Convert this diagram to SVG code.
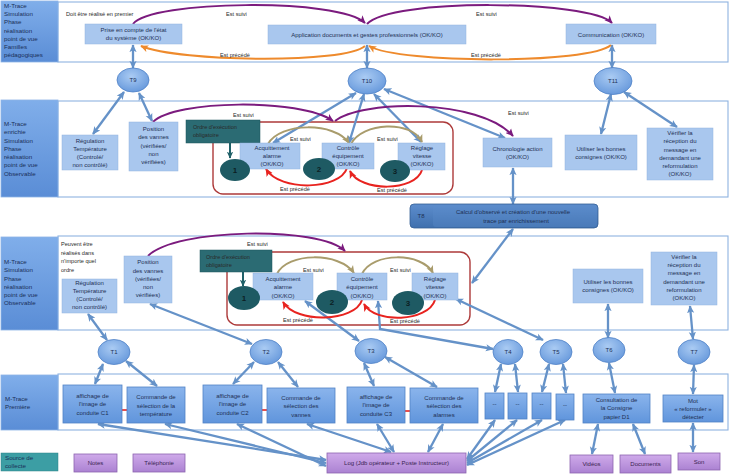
<svg xmlns="http://www.w3.org/2000/svg" width="731" height="474" viewBox="0 0 731 474">
<defs>
<linearGradient id="gLab" x1="0" y1="0" x2="0" y2="1"><stop offset="0" stop-color="#80aeea"/><stop offset="1" stop-color="#5a8dd6"/></linearGradient>
<linearGradient id="gMb" x1="0" y1="0" x2="0" y2="1"><stop offset="0" stop-color="#8ab4ec"/><stop offset="1" stop-color="#6095dc"/></linearGradient>
<radialGradient id="gT" cx="0.45" cy="0.35" r="0.75"><stop offset="0" stop-color="#aacbf3"/><stop offset="1" stop-color="#5f93d9"/></radialGradient>
<linearGradient id="gT8" x1="0" y1="0" x2="0" y2="1"><stop offset="0" stop-color="#5d8dcd"/><stop offset="1" stop-color="#3f70ae"/></linearGradient>
<linearGradient id="gPur" x1="0" y1="0" x2="0" y2="1"><stop offset="0" stop-color="#cfaaea"/><stop offset="1" stop-color="#ab82d2"/></linearGradient>
<marker id="ab" viewBox="0 0 10 10" refX="9" refY="5" markerWidth="8" markerHeight="8" markerUnits="userSpaceOnUse" orient="auto-start-reverse"><path d="M0,0.5 L10,5 L0,9.5 L2.5,5 z" fill="#6592c8"/></marker>
<marker id="ap" viewBox="0 0 10 10" refX="9" refY="5" markerWidth="8" markerHeight="8" markerUnits="userSpaceOnUse" orient="auto"><path d="M0,0.5 L10,5 L0,9.5 L2.5,5 z" fill="#7b1b7e"/></marker>
<marker id="ao" viewBox="0 0 10 10" refX="9" refY="5" markerWidth="8" markerHeight="8" markerUnits="userSpaceOnUse" orient="auto"><path d="M0,0.5 L10,5 L0,9.5 L2.5,5 z" fill="#ee8a2c"/></marker>
<marker id="av" viewBox="0 0 10 10" refX="9" refY="5" markerWidth="8" markerHeight="8" markerUnits="userSpaceOnUse" orient="auto"><path d="M0,0.5 L10,5 L0,9.5 L2.5,5 z" fill="#a99c6c"/></marker>
<marker id="ar" viewBox="0 0 10 10" refX="9" refY="5" markerWidth="8" markerHeight="8" markerUnits="userSpaceOnUse" orient="auto-start-reverse"><path d="M0,0.5 L10,5 L0,9.5 L2.5,5 z" fill="#e8231f"/></marker>
<marker id="at" viewBox="0 0 10 10" refX="9" refY="5" markerWidth="7" markerHeight="7" markerUnits="userSpaceOnUse" orient="auto"><path d="M0,0.5 L10,5 L0,9.5 L2.5,5 z" fill="#1f6068"/></marker>
</defs>
<style>
text{font-family:"Liberation Sans",Arial,sans-serif;}
.lab{fill:url(#gLab);stroke:#8db3e6;stroke-width:0.8}
.lt{font-size:6.2px;fill:#1a2f58}
.frame{fill:#fff;stroke:#8fb3e0;stroke-width:1.1}
.lb{fill:#a9c7ee;stroke:#93b4e0;stroke-width:0.5}
.t{font-size:6px;fill:#1e3054;text-anchor:middle}
.mb{fill:url(#gMb);stroke:#5283c6;stroke-width:0.8}
.te{fill:url(#gT);stroke:#4f82c6;stroke-width:0.8}
.pb{fill:url(#gPur);stroke:#8d64b0;stroke-width:0.8}
.pt{font-size:6px;fill:#3a2452;text-anchor:middle}
.ann{font-size:5.6px;fill:#2a2a2a}
.ordre{fill:#2b6b73;stroke:#1f555c;stroke-width:0.5}
.num{fill:#1e5a63}
.numt{font-size:8px;font-weight:bold;fill:#0c1f24;text-anchor:middle}
.red{fill:none;stroke:#ad3a3a;stroke-width:1.4}
.c{fill:none;stroke:#6592c8;stroke-width:2.3;marker-start:url(#ab);marker-end:url(#ab)}
.cp{fill:none;stroke:#7b1b7e;stroke-width:2;marker-end:url(#ap)}
.co{fill:none;stroke:#ee8a2c;stroke-width:2;marker-end:url(#ao)}
.cv{fill:none;stroke:#a99c6c;stroke-width:2;marker-end:url(#av)}
.cr{fill:none;stroke:#e8231f;stroke-width:2;marker-end:url(#ar)}
.crr{fill:none;stroke:#e8231f;stroke-width:1.6;marker-start:url(#ar);marker-end:url(#ar)}
.ct{fill:none;stroke:#1f6068;stroke-width:2;marker-end:url(#at)}
</style>

<g id="band1">
<rect class="frame" x="58" y="2" width="670" height="60"/>
<rect class="lab" x="1" y="1" width="57" height="61"/>
<text class="lt"><tspan x="4" y="8">M-Trace</tspan><tspan x="4" y="16">Simulation</tspan><tspan x="4" y="24">Phase</tspan><tspan x="4" y="32.5">réalisation</tspan><tspan x="4" y="41">point de vue</tspan><tspan x="4" y="49">Familles</tspan><tspan x="4" y="57">pédagogiques</tspan></text>
<text class="ann" x="66" y="16">Doit être réalisé en premier</text>
</g>
<g id="band2">
<rect class="frame" x="58" y="101" width="670" height="96"/>
<rect class="lab" x="1" y="100" width="57" height="97"/>
<text class="lt"><tspan x="4" y="126">M-Trace</tspan><tspan x="4" y="134">enrichie</tspan><tspan x="4" y="142.5">Simulation</tspan><tspan x="4" y="150.5">Phase</tspan><tspan x="4" y="159">réalisation</tspan><tspan x="4" y="167">point de vue</tspan><tspan x="4" y="175.5">Observable</tspan></text>
</g>
<g id="band3">
<rect class="frame" x="58" y="236" width="670" height="94"/>
<rect class="lab" x="1" y="237" width="57" height="93"/>
<text class="lt"><tspan x="4" y="264">M-Trace</tspan><tspan x="4" y="272">Simulation</tspan><tspan x="4" y="280.5">Phase</tspan><tspan x="4" y="288.5">réalisation</tspan><tspan x="4" y="297">point de vue</tspan><tspan x="4" y="305">Observable</tspan></text>
<text class="ann" font-size="6"><tspan x="61" y="246">Peuvent être</tspan><tspan x="61" y="254.5">réalisés dans</tspan><tspan x="61" y="263">n'importe quel</tspan><tspan x="61" y="271.5">ordre</tspan></text>
</g>
<g id="band4">
<rect class="frame" x="58" y="374" width="670" height="56"/>
<rect class="lab" x="1" y="375" width="57" height="55"/>
<text class="lt"><tspan x="5" y="401">M-Trace</tspan><tspan x="5" y="409">Première</tspan></text>
</g>
<g id="source">
<rect x="1" y="453" width="57" height="18" fill="#3c9ea4" stroke="#2f8288" stroke-width="0.5"/>
<text class="lt" fill="#113a44"><tspan x="5" y="460">Source de</tspan><tspan x="5" y="468">collecte</tspan></text>
</g>

<rect class="red" x="213" y="122" width="240" height="72" rx="10"/>
<rect class="red" x="227" y="252" width="243" height="73" rx="10"/>

<g id="connectors">
<path class="c" d="M133,45 L133,68"/>
<path class="c" d="M367,45 L367,68"/>
<path class="c" d="M612,45 L612,68"/>
<path class="c" d="M124,92 L93,134"/>
<path class="c" d="M139,93 L152,121"/>
<path class="c" d="M356,93 L273,143"/>
<path class="c" d="M364,94 L349,143"/>
<path class="c" d="M374,94 L421,142"/>
<path class="c" d="M384,89 L505,138"/>
<path class="c" d="M611,94 L601,134"/>
<path class="c" d="M624,92 L677,127"/>
<path class="c" d="M513,168 L513,204"/>
<path class="c" d="M513,229 L472,283"/>
<path class="c" d="M88,314 L107,340"/>
<path class="c" d="M150,304 L252,344"/>
<path class="c" d="M305,301 L359,341"/>
<path class="c" d="M378,301 L380,329 L493,349"/>
<path class="c" d="M456,299 L543,340"/>
<path class="c" d="M608,304 L608,338"/>
<path class="c" d="M690,306 L693,339"/>
<path class="c" d="M103,364 L95,384"/>
<path class="c" d="M126,361 L157,386"/>
<path class="c" d="M254,362 L233,384"/>
<path class="c" d="M278,362 L298,387"/>
<path class="c" d="M364,363 L374,386"/>
<path class="c" d="M385,357 L437,387"/>
<path class="c" d="M501,364 L495,392"/>
<path class="c" d="M515,364 L518,392"/>
<path class="c" d="M549,364 L542,392"/>
<path class="c" d="M563,364 L566,393"/>
<path class="c" d="M609,363 L615,393"/>
<path class="c" d="M694,365 L693,394"/>
<path class="c" d="M598,424 L592,454"/>
<path class="c" d="M633,424 L645,454"/>
<path class="c" d="M693,423 L693,452"/>
<path class="c" d="M98,424 L326,460"/>
<path class="c" d="M165,424 L326,463"/>
<path class="c" d="M237,424 L326,466"/>
<path class="c" d="M307,424 L391,452"/>
<path class="c" d="M377,424 L394,452"/>
<path class="c" d="M443,424 L428,452"/>
<path class="c" d="M495,420 L467,459"/>
<path class="c" d="M517,420 L467,461"/>
<path class="c" d="M542,420 L467,463"/>
<path class="c" d="M565,420 L467,465"/>
<path class="cp" d="M133,24 C150,0 340,-2 365,23"/>
<path class="cp" d="M367,24 C390,-2 590,0 612,23"/>
<path class="co" d="M365,46 C345,64 180,62 141,46"/>
<path class="co" d="M611,45 C590,64 400,64 369,46"/>
<path class="cp" d="M153,122 C175,100 300,98 333,121"/>
<path class="cp" d="M335,121 C360,100 480,98 513,136"/>
<path class="cp" d="M148,256 C175,228 320,226 345,251"/>
<path class="cv" d="M268,144 C280,122 335,122 349,143"/>
<path class="cv" d="M351,144 C362,122 412,120 422,142"/>
<path class="cr" d="M347,168 C340,190 280,192 266,169"/>
<path class="cr" d="M422,170 C415,192 360,192 350,171"/>
<path class="cv" d="M277,274 C287,252 340,252 354,273"/>
<path class="cv" d="M362,274 C372,252 422,252 433,273"/>
<path class="cr" d="M362,300 C355,322 296,324 283,302"/>
<path class="cr" d="M435,300 C428,322 375,324 364,304"/>
<path class="ct" d="M230,143 L230,158"/>
<path class="ct" d="M243,272 L243,286"/>
<path class="crr" d="M112,410 L137,410"/>
<path class="crr" d="M254,410 L276,410"/>
<path class="crr" d="M397,411 L418,411"/>
</g>

<g id="labels">
<text class="ann" x="226" y="16">Est suivi</text>
<text class="ann" x="476" y="16">Est suivi</text>
<text class="ann" x="220" y="57">Est précédé</text>
<text class="ann" x="471" y="57">Est précédé</text>
<text class="ann" x="233" y="117">Est suivi</text>
<text class="ann" x="508" y="115">Est suivi</text>
<text class="ann" x="290" y="141">Est suivi</text>
<text class="ann" x="377" y="141">Est suivi</text>
<text class="ann" x="280" y="191">Est précédé</text>
<text class="ann" x="377" y="192">Est précédé</text>
<text class="ann" x="247" y="246">Est suivi</text>
<text class="ann" x="303" y="272">Est suivi</text>
<text class="ann" x="390" y="272">Est suivi</text>
<text class="ann" x="283" y="322">Est précédé</text>
<text class="ann" x="390" y="323">Est précédé</text>
</g>

<g id="prise"><rect class="lb" x="85" y="24" width="97" height="20"/><text class="t"><tspan x="133.5" y="32">Prise en compte de  l'état</tspan><tspan x="133.5" y="40">du système (OK/KO)</tspan></text></g>
<g id="application"><rect class="lb" x="268" y="25" width="198" height="19"/><text class="t" x="367" y="36.5">Application documents et gestes professionnels (OK/KO)</text></g>
<g id="communication"><rect class="lb" x="566" y="24" width="90" height="20"/><text class="t" x="611" y="36.5">Communication (OK/KO)</text></g>

<g id="T9"><ellipse class="te" cx="133" cy="80" rx="16" ry="12"/><text class="t" x="133" y="82" font-size="5.5">T9</text></g>
<g id="T10"><ellipse class="te" cx="367" cy="81" rx="19" ry="13"/><text class="t" x="367" y="83" font-size="5.5">T10</text></g>
<g id="T11"><ellipse class="te" cx="613" cy="81" rx="19" ry="13.5"/><text class="t" x="613" y="83" font-size="5.5">T11</text></g>

<g id="regulation2"><rect class="lb" x="62" y="135" width="56" height="35"/><text class="t"><tspan x="90" y="143">Régulation</tspan><tspan x="90" y="151">Température</tspan><tspan x="90" y="159">(Controlé/</tspan><tspan x="90" y="167">non contrôlé)</tspan></text></g>
<g id="position2"><rect class="lb" x="129" y="122" width="49" height="49"/><text class="t"><tspan x="153.5" y="131">Position</tspan><tspan x="153.5" y="139">des vannes</tspan><tspan x="153.5" y="147.5">(vérifiées/</tspan><tspan x="153.5" y="155.5">non</tspan><tspan x="153.5" y="164">vérifiées)</tspan></text></g>
<g id="ordre2"><rect class="ordre" x="186" y="120" width="74" height="23"/><text class="ann" fill="#0f2f35" font-size="6"><tspan x="193" y="129">Ordre d'exécution</tspan><tspan x="193" y="136.5">obligatoire</tspan></text></g>
<g id="acq2"><rect class="lb" x="240" y="143" width="60" height="26"/><text class="t"><tspan x="272" y="149.5">Acquittement</tspan><tspan x="272" y="157.5">alarme</tspan><tspan x="272" y="165.5">(OK/KO)</tspan></text></g>
<g id="ctrl2"><rect class="lb" x="322" y="143" width="52" height="26"/><text class="t"><tspan x="348" y="149.5">Contrôle</tspan><tspan x="348" y="157.5">équipement</tspan><tspan x="348" y="165.5">(OK/KO)</tspan></text></g>
<g id="regl2"><rect class="lb" x="398" y="143" width="47" height="27"/><text class="t"><tspan x="422" y="150">Réglage</tspan><tspan x="422" y="158">vitesse</tspan><tspan x="422" y="166">(OK/KO)</tspan></text></g>
<g id="n1b2"><ellipse class="num" cx="235" cy="170" rx="15" ry="11"/><text class="numt" x="235" y="173">1</text></g>
<g id="n2b2"><ellipse class="num" cx="319" cy="169" rx="16" ry="11"/><text class="numt" x="319" y="172">2</text></g>
<g id="n3b2"><ellipse class="num" cx="395" cy="171" rx="15" ry="11"/><text class="numt" x="395" y="174">3</text></g>
<g id="chrono"><rect class="lb" x="483" y="138" width="69" height="29"/><text class="t"><tspan x="517.5" y="151">Chronologie action</tspan><tspan x="517.5" y="159">(OK/KO)</tspan></text></g>
<g id="utiliser2"><rect class="lb" x="565" y="135" width="72" height="35"/><text class="t"><tspan x="601" y="150.5">Utiliser les bonnes</tspan><tspan x="601" y="158.5">consignes (OK/KO)</tspan></text></g>
<g id="verifier2"><rect class="lb" x="647" y="128" width="66" height="52"/><text class="t"><tspan x="680" y="135">Vérifier la</tspan><tspan x="680" y="143">réception du</tspan><tspan x="680" y="151.5">message en</tspan><tspan x="680" y="159.5">demandant une</tspan><tspan x="680" y="168">reformulation</tspan><tspan x="680" y="176">(OK/KO)</tspan></text></g>

<g id="T8"><rect x="410" y="204" width="188" height="24" rx="4" fill="url(#gT8)" stroke="#355f95" stroke-width="0.8"/><rect x="433" y="205" width="164" height="22" rx="3" fill="#5b8ccb" opacity="0.35"/><text class="t" x="421" y="218" fill="#1a2a48">T8</text><text class="t" fill="#13233f"><tspan x="513" y="213.5">Calcul  d'observé et création d'une nouvelle</tspan><tspan x="516" y="223">trace par enrichissement</tspan></text></g>

<g id="regulation3"><rect class="lb" x="62" y="279" width="55" height="34"/><text class="t"><tspan x="89.5" y="285">Régulation</tspan><tspan x="89.5" y="293">Température</tspan><tspan x="89.5" y="301">(Controlé/</tspan><tspan x="89.5" y="309">non contrôlé)</tspan></text></g>
<g id="position3"><rect class="lb" x="124" y="256" width="48" height="47"/><text class="t"><tspan x="148" y="264">Position</tspan><tspan x="148" y="272.5">des vannes</tspan><tspan x="148" y="280.5">(vérifiées/</tspan><tspan x="148" y="289">non</tspan><tspan x="148" y="297">vérifiées)</tspan></text></g>
<g id="ordre3"><rect class="ordre" x="200" y="250" width="72" height="22"/><text class="ann" fill="#0f2f35" font-size="6"><tspan x="206" y="259">Ordre d'exécution</tspan><tspan x="206" y="266.5">obligatoire</tspan></text></g>
<g id="acq3"><rect class="lb" x="253" y="273" width="60" height="27"/><text class="t"><tspan x="283" y="281">Acquittement</tspan><tspan x="283" y="289">alarme</tspan><tspan x="283" y="297.5">(OK/KO)</tspan></text></g>
<g id="ctrl3"><rect class="lb" x="337" y="273" width="50" height="27"/><text class="t"><tspan x="362" y="281">Contrôle</tspan><tspan x="362" y="289">équipement</tspan><tspan x="362" y="297.5">(OK/KO)</tspan></text></g>
<g id="regl3"><rect class="lb" x="412" y="273" width="46" height="27"/><text class="t"><tspan x="435" y="281">Réglage</tspan><tspan x="435" y="289">vitesse</tspan><tspan x="435" y="297.5">(OK/KO)</tspan></text></g>
<g id="n1b3"><ellipse class="num" cx="244" cy="298" rx="16" ry="12"/><text class="numt" x="244" y="301">1</text></g>
<g id="n2b3"><ellipse class="num" cx="332" cy="302" rx="16" ry="12"/><text class="numt" x="332" y="305">2</text></g>
<g id="n3b3"><ellipse class="num" cx="408" cy="303" rx="16" ry="12"/><text class="numt" x="408" y="306">3</text></g>
<g id="utiliser3"><rect class="lb" x="573" y="269" width="70" height="34"/><text class="t"><tspan x="608" y="284">Utiliser les bonnes</tspan><tspan x="608" y="292">consignes (OK/KO)</tspan></text></g>
<g id="verifier3"><rect class="lb" x="651" y="252" width="66" height="53"/><text class="t"><tspan x="684" y="259">Vérifier la</tspan><tspan x="684" y="267">réception du</tspan><tspan x="684" y="275">message en</tspan><tspan x="684" y="283.5">demandant une</tspan><tspan x="684" y="291.5">reformulation</tspan><tspan x="684" y="299.5">(OK/KO)</tspan></text></g>

<g id="T1"><ellipse class="te" cx="114" cy="352" rx="16" ry="12.5"/><text class="t" x="114" y="354" font-size="5.5">T1</text></g>
<g id="T2"><ellipse class="te" cx="266" cy="352" rx="16" ry="12.5"/><text class="t" x="266" y="354" font-size="5.5">T2</text></g>
<g id="T3"><ellipse class="te" cx="371" cy="351" rx="16" ry="12.5"/><text class="t" x="371" y="353" font-size="5.5">T3</text></g>
<g id="T4"><ellipse class="te" cx="508" cy="352" rx="15" ry="12.5"/><text class="t" x="508" y="354" font-size="5.5">T4</text></g>
<g id="T5"><ellipse class="te" cx="556" cy="352" rx="16" ry="12.5"/><text class="t" x="556" y="354" font-size="5.5">T5</text></g>
<g id="T6"><ellipse class="te" cx="609" cy="350" rx="16" ry="12.5"/><text class="t" x="609" y="352" font-size="5.5">T6</text></g>
<g id="T7"><ellipse class="te" cx="694" cy="352" rx="16" ry="12.5"/><text class="t" x="694" y="354" font-size="5.5">T7</text></g>

<g id="c1"><rect class="mb" x="63" y="385" width="59" height="38"/><text class="t"><tspan x="92.5" y="398">affichage  de</tspan><tspan x="92.5" y="406">l'image de</tspan><tspan x="92.5" y="414.5">conduite C1</tspan></text></g>
<g id="cmdtemp"><rect class="mb" x="127" y="387" width="58" height="36"/><text class="t"><tspan x="156" y="399">Commande de</tspan><tspan x="156" y="407.5">sélection de la</tspan><tspan x="156" y="415.5">température</tspan></text></g>
<g id="c2"><rect class="mb" x="203" y="385" width="59" height="38"/><text class="t"><tspan x="232.5" y="398">affichage  de</tspan><tspan x="232.5" y="406">l'image de</tspan><tspan x="232.5" y="414.5">conduite C2</tspan></text></g>
<g id="cmdvannes"><rect class="mb" x="267" y="388" width="68" height="35"/><text class="t"><tspan x="301" y="400">Commande de</tspan><tspan x="301" y="408">sélection des</tspan><tspan x="301" y="416.5">vannes</tspan></text></g>
<g id="c3"><rect class="mb" x="347" y="387" width="58" height="36"/><text class="t"><tspan x="376" y="399">affichage  de</tspan><tspan x="376" y="407">l'image de</tspan><tspan x="376" y="415.5">conduite C3</tspan></text></g>
<g id="cmdalarmes"><rect class="mb" x="410" y="388" width="68" height="35"/><text class="t"><tspan x="444" y="400">Commande de</tspan><tspan x="444" y="408">sélection des</tspan><tspan x="444" y="416.5">alarmes</tspan></text></g>
<g id="d1"><rect class="mb" x="485" y="393" width="19" height="26"/><text class="t" x="494.5" y="406">--</text></g>
<g id="d2"><rect class="mb" x="508" y="393" width="19" height="26"/><text class="t" x="517.5" y="406">--</text></g>
<g id="d3"><rect class="mb" x="532" y="393" width="19" height="26"/><text class="t" x="541.5" y="406">--</text></g>
<g id="d4"><rect class="mb" x="556" y="394" width="18" height="26"/><text class="t" x="565" y="407">--</text></g>
<g id="consultation"><rect class="mb" x="583" y="394" width="67" height="29"/><text class="t"><tspan x="616.5" y="402">Consultation de</tspan><tspan x="616.5" y="410">la Consigne</tspan><tspan x="616.5" y="418.5">papier D1</tspan></text></g>
<g id="mot"><rect class="mb" x="663" y="395" width="60" height="27"/><text class="t"><tspan x="693" y="403">Mot</tspan><tspan x="693" y="411">« reformuler »</tspan><tspan x="693" y="419">détecter</tspan></text></g>

<g id="notes"><rect class="pb" x="74" y="454" width="43" height="18"/><text class="pt" x="95.5" y="465">Notes</text></g>
<g id="telephonie"><rect class="pb" x="133" y="454" width="52" height="18"/><text class="pt" x="159" y="465">Téléphonie</text></g>
<g id="log"><rect class="pb" x="327" y="453" width="139" height="20"/><text class="pt" x="396.5" y="465">Log (Jdb opérateur + Poste Instructeur)</text></g>
<g id="videos"><rect class="pb" x="570" y="455" width="43" height="18"/><text class="pt" x="591.5" y="466">Vidéos</text></g>
<g id="documents"><rect class="pb" x="620" y="455" width="51" height="18"/><text class="pt" x="645.5" y="466">Documents</text></g>
<g id="son"><rect class="pb" x="678" y="453" width="42" height="17"/><text class="pt" x="699" y="464">Son</text></g>
</svg>
